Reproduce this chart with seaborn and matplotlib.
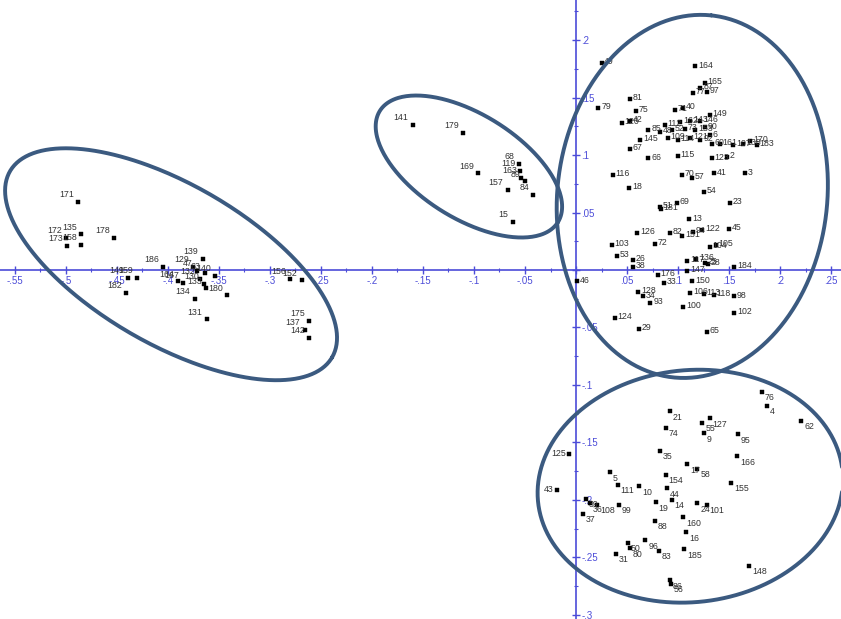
import numpy as np
import pandas as pd
import matplotlib
matplotlib.use("Agg")
import matplotlib.pyplot as plt
import seaborn as sns
from matplotlib.ticker import MultipleLocator, FuncFormatter

# Scores das observações (eixo 1 x eixo 2)
ids_esq = [171, 172, 135, 173, 158, 178, 186, 139, 129, 47, 63, 140, 164, 167, 132, 130,
           133, 180, 134, 131, 149, 159, 182, 156, 152, 175, 137, 142]
x_esq = [-0.488, -0.500, -0.485, -0.499, -0.485, -0.453, -0.405, -0.366, -0.375, -0.372,
         -0.364, -0.354, -0.390, -0.385, -0.369, -0.365, -0.363, -0.342, -0.374, -0.362,
         -0.439, -0.430, -0.441, -0.280, -0.269, -0.262, -0.266, -0.262]
y_esq = [0.059, 0.028, 0.031, 0.021, 0.022, 0.028, 0.003, 0.010, 0.003, -0.001,
         -0.003, -0.005, -0.010, -0.011, -0.008, -0.012, -0.016, -0.022, -0.025, -0.043,
         -0.007, -0.007, -0.020, -0.008, -0.009, -0.044, -0.052, -0.059]

ids_meio = [141, 179, 169, 68, 119, 163, 157, 89, 84, 15]
x_meio = [-0.160, -0.111, -0.096, -0.056, -0.055, -0.054, -0.067, -0.050, -0.042, -0.062]
y_meio = [0.126, 0.119, 0.084, 0.092, 0.086, 0.080, 0.070, 0.077, 0.065, 0.042]

ids_sup = [49, 79, 81, 75, 120, 42, 85, 145, 67, 66, 115, 164, 165, 87, 77, 97, 40, 71,
           149, 146, 143, 162, 112, 48, 52, 73, 153, 90, 109, 114, 121, 92, 6, 60, 161,
           107, 138, 183, 170, 123, 2, 41, 3, 70, 57, 54, 23, 116, 18, 51, 181, 69, 13,
           126, 82, 151, 122, 94, 45, 104, 105, 103, 72, 53, 26, 38, 117, 25, 28, 136,
           184, 147, 150, 106, 113, 118, 33, 128, 34, 93, 100, 98, 102, 124, 29, 65, 46, 176]
x_sup = [0.025, 0.022, 0.053, 0.059, 0.045, 0.053, 0.071, 0.063, 0.053, 0.071, 0.100,
         0.117, 0.126, 0.122, 0.115, 0.128, 0.105, 0.097, 0.131, 0.122, 0.112, 0.102,
         0.087, 0.082, 0.094, 0.107, 0.117, 0.126, 0.090, 0.100, 0.112, 0.122, 0.131,
         0.133, 0.141, 0.154, 0.164, 0.177, 0.171, 0.133, 0.148, 0.135, 0.166, 0.104,
         0.114, 0.125, 0.151, 0.036, 0.052, 0.082, 0.083, 0.099, 0.111, 0.060, 0.092,
         0.104, 0.124, 0.115, 0.150, 0.131, 0.137, 0.035, 0.077, 0.040, 0.056, 0.056,
         0.109, 0.126, 0.129, 0.118, 0.155, 0.109, 0.114, 0.112, 0.125, 0.135, 0.086,
         0.061, 0.066, 0.073, 0.105, 0.155, 0.155, 0.038, 0.062, 0.128, 0.001, 0.080]
y_sup = [0.180, 0.141, 0.149, 0.138, 0.128, 0.130, 0.122, 0.113, 0.105, 0.097, 0.099,
         0.177, 0.163, 0.158, 0.154, 0.155, 0.141, 0.139, 0.135, 0.130, 0.130, 0.129,
         0.126, 0.120, 0.122, 0.123, 0.122, 0.124, 0.115, 0.113, 0.115, 0.113, 0.117,
         0.110, 0.110, 0.109, 0.110, 0.109, 0.112, 0.097, 0.098, 0.084, 0.084, 0.083,
         0.080, 0.068, 0.058, 0.083, 0.071, 0.055, 0.053, 0.058, 0.044, 0.032, 0.032,
         0.030, 0.035, 0.033, 0.036, 0.020, 0.022, 0.022, 0.023, 0.012, 0.009, 0.003,
         0.008, 0.006, 0.005, 0.010, 0.003, -0.001, -0.010, -0.020, -0.021, -0.022, -0.011,
         -0.019, -0.023, -0.029, -0.032, -0.023, -0.037, -0.042, -0.051, -0.054, -0.010, -0.004]

ids_inf = [125, 43, 5, 111, 10, 21, 74, 35, 154, 44, 76, 4, 62, 127, 55, 9, 95, 166, 17,
           58, 155, 19, 14, 24, 101, 160, 16, 88, 99, 108, 39, 36, 37, 31, 96, 50, 80, 83,
           185, 148, 86, 56]
x_inf = [-0.007, -0.019, 0.033, 0.041, 0.062, 0.092, 0.088, 0.082, 0.088, 0.089, 0.182,
         0.187, 0.221, 0.131, 0.124, 0.125, 0.159, 0.158, 0.109, 0.119, 0.152, 0.078,
         0.094, 0.119, 0.128, 0.105, 0.108, 0.077, 0.042, 0.021, 0.010, 0.014, 0.007,
         0.039, 0.068, 0.051, 0.053, 0.081, 0.106, 0.170, 0.092, 0.093]
y_inf = [-0.160, -0.191, -0.176, -0.187, -0.188, -0.123, -0.137, -0.157, -0.178, -0.190,
         -0.106, -0.118, -0.131, -0.129, -0.133, -0.142, -0.143, -0.162, -0.169, -0.173,
         -0.185, -0.202, -0.200, -0.203, -0.204, -0.215, -0.228, -0.218, -0.204, -0.204,
         -0.199, -0.203, -0.212, -0.247, -0.235, -0.237, -0.242, -0.244, -0.243, -0.257,
         -0.270, -0.273]

# Grupos circulados: centro (x, y), semi-eixos em pixels, ângulo em graus
grupos = [
    (-0.397, 0.005, 186, 80, -30),
    (-0.105, 0.090, 105, 52, -32),
    (0.114, 0.064, 182, 135, 84),
    (0.112, -0.188, 153, 116, 6),
]

df = pd.DataFrame({
    "id": ids_esq + ids_meio + ids_sup + ids_inf,
    "x": x_esq + x_meio + x_sup + x_inf,
    "y": y_esq + y_meio + y_sup + y_inf,
})

sns.set_style("white")
plt.rcParams["font.family"] = ["Liberation Sans", "DejaVu Sans"]

fig = plt.figure(figsize=(8.41, 6.19), dpi=100)
ax = fig.add_axes([0, 0, 1, 1])

xmin, xmax = -0.5647, 0.2598
ymin, ymax = -0.3035, 0.2348
sx = 841 / (xmax - xmin)
sy = 619 / (ymax - ymin)

sns.scatterplot(data=df, x="x", y="y", marker="s", s=9, color="black",
                edgecolor="black", linewidth=0.3, legend=False, ax=ax, zorder=3)

for pid, px, py in zip(df["id"], df["x"], df["y"]):
    rot = str(int(pid))
    if px < 0 and py > -0.1:
        ax.annotate(rot, (px, py), xytext=(-3, 2), textcoords="offset points",
                    ha="right", va="bottom", fontsize=6.3, color="#333333")
    elif px < 0:
        ax.annotate(rot, (px, py), xytext=(-2, 0), textcoords="offset points",
                    ha="right", va="center", fontsize=6.3, color="#333333")
    elif py > -0.1:
        ax.annotate(rot, (px, py), xytext=(2, 1), textcoords="offset points",
                    ha="left", va="center", fontsize=6.3, color="#333333")
    else:
        ax.annotate(rot, (px, py), xytext=(2, -1), textcoords="offset points",
                    ha="left", va="top", fontsize=6.3, color="#333333")

# Elipses dos agrupamentos
t = np.linspace(0, 2 * np.pi, 300)
for cx, cy, a, b, ang in grupos:
    th = np.radians(ang)
    u, v = a * np.cos(t), b * np.sin(t)
    ex = cx + (u * np.cos(th) - v * np.sin(th)) / sx
    ey = cy + (u * np.sin(th) + v * np.cos(th)) / sy
    ax.plot(ex, ey, color="#3b5a80", lw=2.8, zorder=4)

# Eixos cruzando na origem
azul = "#4c4cd8"
ax.set_xlim(xmin, xmax)
ax.set_ylim(ymin, ymax)
ax.spines["top"].set_visible(False)
ax.spines["left"].set_visible(False)
ax.spines["bottom"].set_position(("data", 0))
ax.spines["right"].set_position(("data", 0))
for s in ["bottom", "right"]:
    ax.spines[s].set_color(azul)
    ax.spines[s].set_linewidth(1.2)
ax.yaxis.tick_right()
ax.xaxis.tick_bottom()
ax.xaxis.set_major_locator(MultipleLocator(0.05))
ax.yaxis.set_major_locator(MultipleLocator(0.05))
ax.xaxis.set_minor_locator(MultipleLocator(0.025))
ax.yaxis.set_minor_locator(MultipleLocator(0.025))


def fmt(v, _):
    if abs(v) < 1e-9:
        return ""
    return f"{v:.2f}".rstrip("0").replace("0.", ".")


ax.xaxis.set_major_formatter(FuncFormatter(fmt))
ax.yaxis.set_major_formatter(FuncFormatter(fmt))
ax.tick_params(which="major", direction="inout", length=6, width=1, color=azul,
               labelcolor=azul, labelsize=7, pad=1)
ax.tick_params(which="minor", direction="inout", length=3.5, width=0.8, color=azul)
ax.set_xlabel("")
ax.set_ylabel("")

fig.savefig("out.png", dpi=100)
